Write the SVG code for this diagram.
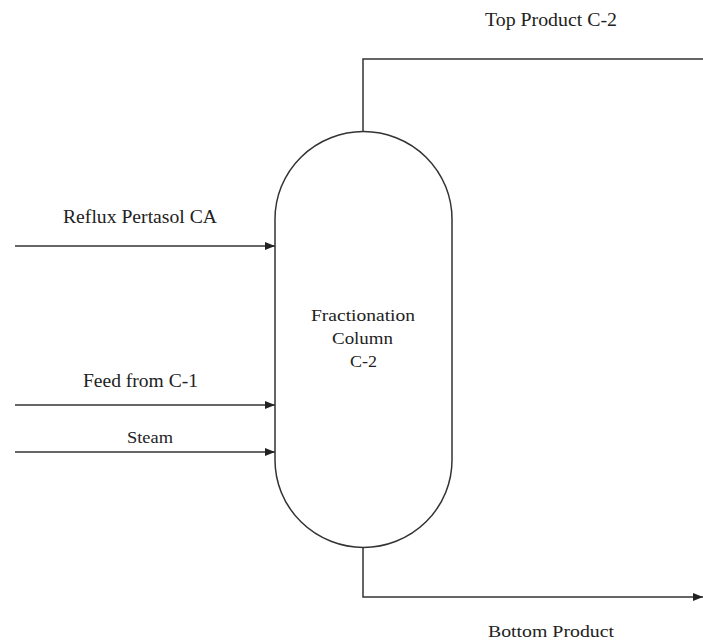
<svg xmlns="http://www.w3.org/2000/svg" width="703" height="641" viewBox="0 0 703 641">
<style>
.t{font-family:'Liberation Serif','Times New Roman',Times,serif;fill:#222}
.ln{fill:none;stroke:#333;stroke-width:1.5}
</style>
<defs>
<marker id="ah" markerWidth="10" markerHeight="8" refX="10" refY="4" orient="auto" markerUnits="userSpaceOnUse">
<path d="M0,0 L10,4 L0,8 Z" fill="#222"/>
</marker>
</defs>
<rect width="703" height="641" fill="#fff"/>
<g id="column">
<path class="ln" d="M275,219 A88,87 0 0 1 452,219 L452,460 A88,87 0 0 1 275,460 Z"/>
<text class="t" x="311" y="321" font-size="16" textLength="104" lengthAdjust="spacingAndGlyphs">Fractionation</text>
<text class="t" x="332" y="344" font-size="16" textLength="61" lengthAdjust="spacingAndGlyphs">Column</text>
<text class="t" x="350" y="367" font-size="16" textLength="27" lengthAdjust="spacingAndGlyphs">C-2</text>
</g>
<g id="connectors">
<path class="ln" d="M363,132 L363,59 L703,59"/>
<path class="ln" d="M363,547 L363,597 L703,597" marker-end="url(#ah)"/>
<path class="ln" d="M15,246 L275,246" marker-end="url(#ah)"/>
<path class="ln" d="M15,405 L275,405" marker-end="url(#ah)"/>
<path class="ln" d="M15,452 L275,452" marker-end="url(#ah)"/>
</g>
<g id="labels">
<text class="t" x="485" y="26" font-size="19" textLength="132" lengthAdjust="spacingAndGlyphs">Top Product C-2</text>
<text class="t" x="63" y="223" font-size="19" textLength="154" lengthAdjust="spacingAndGlyphs">Reflux Pertasol CA</text>
<text class="t" x="83" y="387" font-size="18" textLength="115" lengthAdjust="spacingAndGlyphs">Feed from C-1</text>
<text class="t" x="127" y="443" font-size="17" textLength="46" lengthAdjust="spacingAndGlyphs">Steam</text>
<text class="t" x="488" y="637" font-size="17" textLength="126" lengthAdjust="spacingAndGlyphs">Bottom Product</text>
</g>
</svg>
